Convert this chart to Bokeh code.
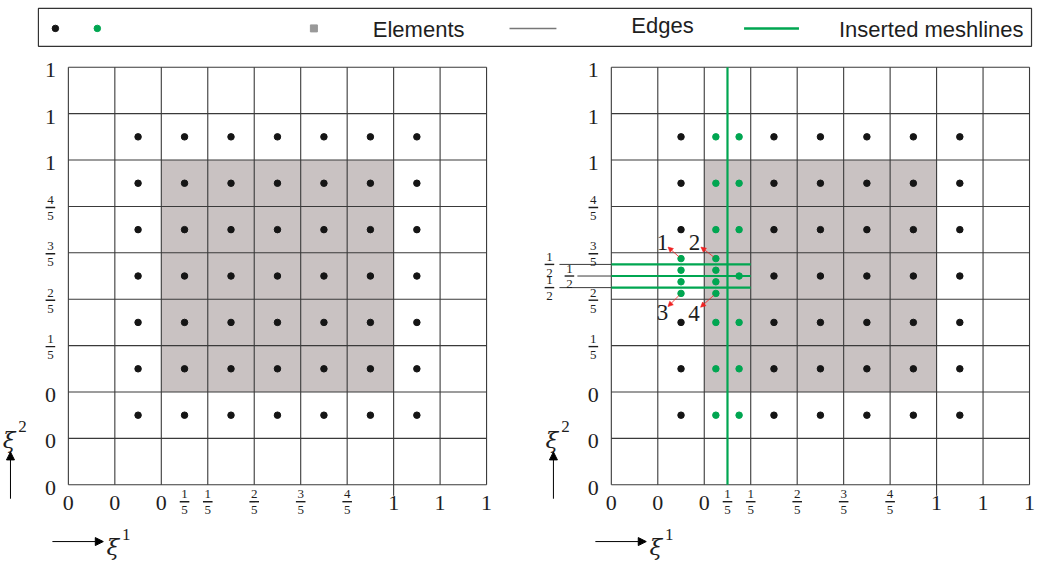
from bokeh.plotting import figure
from bokeh.models import Range1d, Arrow, NormalHead
from bokeh.core.properties import value
from bokeh.embed import file_html
from bokeh.resources import INLINE

# ---------------- data (grid-index space) ----------------
grid_lines = [0, 1, 2, 3, 4, 5, 6, 7, 8, 9]
x_tick_pos = [0, 1, 2, 2.5, 3, 4, 5, 6, 7, 8, 9]
x_tick_lab = ["0", "0", "0", "1/5", "1/5", "2/5", "3/5", "4/5", "1", "1", "1"]
y_tick_pos = [0, 1, 2, 3, 4, 5, 6, 7, 8, 9]
y_tick_lab = ["0", "0", "0", "1/5", "2/5", "3/5", "4/5", "1", "1", "1"]
extended_tick = [7]

element_left, element_right = [2], [7]
element_bottom, element_top = [2], [7]

basis_cols = [1.5, 2.5, 3.5, 4.5, 5.5, 6.5, 7.5]
basis_rows = [1.5, 2.5, 3.5, 4.5, 5.5, 6.5, 7.5]

# refinement shown in the right panel
inserted_x = [2.5]
inserted_y = [4.75, 4.5, 4.25]
inserted_y_lab = ["1/2", "1/2", "1/2"]
inserted_y_span = [0, 3]
refined_col = 2.5
refined_row = 4.5
split_cols = [2.25, 2.75]
split_rows = [4.125, 4.375, 4.625, 4.875]
split_row_cols = [1.5, 2.25]
kept_in_row = [(2.75, 4.5)]

arrow_labels = ["1", "2", "3", "4"]
arrow_from_x = [1.5, 2.25, 1.5, 2.25]
arrow_from_y = [4.875, 4.875, 4.125, 4.125]
arrow_lab_x = [1.10, 1.79, 1.10, 1.78]
arrow_lab_y = [5.23, 5.23, 3.72, 3.70]

legend_labels = ["Elements", "Edges", "Inserted meshlines"]

# ---------------- style ----------------
C = 419 / 9          # reference pixels per grid cell
OFF = 544 / C        # right panel offset (cells)
GREEN = "#00a651"
GREY = "#c9c2c2"
LINE = "#3a3a3a"
TXT = "#1e1e1e"
SERIF = value("Liberation Serif")
MATH = value("DejaVu Serif")
SANS = value("Liberation Sans")


def px(d):
    return d / C


def rx(xr):
    return (xr - 73) / C


def ry(yr):
    return (486 - yr) / C


p = figure(width=1038, height=561, output_backend="svg", toolbar_location=None,
           x_range=Range1d(rx(5), rx(1045)), y_range=Range1d(ry(563), ry(0)),
           x_axis_type=None, y_axis_type=None, min_border=0)
p.grid.visible = False
p.outline_line_color = None
p.background_fill_color = "white"
p.border_fill_color = "white"

big = dict(x=[], y=[], t=[])
small = dict(x=[], y=[], t=[])
bars = dict(x0=[], x1=[], y=[])


def put_label(x, y_digit, y_bar, lab):
    if "/" in lab:
        n, d = lab.split("/")
        small["x"] += [x, x]
        small["y"] += [y_bar + px(7.5), y_bar - px(8.5)]
        small["t"] += [n, d]
        bars["x0"].append(x - px(4.8))
        bars["x1"].append(x + px(4.8))
        bars["y"].append(y_bar)
    else:
        big["x"].append(x)
        big["y"].append(y_digit)
        big["t"].append(lab)


def draw_panel(ox, refined):
    p.quad(left=[ox + v for v in element_left], right=[ox + v for v in element_right],
           bottom=element_bottom, top=element_top, fill_color=GREY, line_color=None)
    n = len(grid_lines)
    p.segment(x0=[ox + g for g in grid_lines], y0=[grid_lines[0]] * n,
              x1=[ox + g for g in grid_lines], y1=[grid_lines[-1]] * n,
              line_color=LINE, line_width=1.1)
    p.segment(x0=[ox + grid_lines[0]] * n, y0=grid_lines,
              x1=[ox + grid_lines[-1]] * n, y1=grid_lines,
              line_color=LINE, line_width=1.1)
    p.segment(x0=[ox + e for e in extended_tick], y0=[0] * len(extended_tick),
              x1=[ox + e for e in extended_tick], y1=[-px(11)] * len(extended_tick),
              line_color=LINE, line_width=1.1)
    for pos, lab in zip(x_tick_pos, x_tick_lab):
        put_label(ox + pos, -px(18.5), -px(17), lab)
    for pos, lab in zip(y_tick_pos, y_tick_lab):
        put_label(ox - px(18), pos - px(3), pos - px(1), lab)

    bx, by, gx, gy = [], [], [], []
    if not refined:
        for c in basis_cols:
            for r in basis_rows:
                bx.append(ox + c)
                by.append(r)
    else:
        for c in basis_cols:
            for r in basis_rows:
                if c == refined_col:
                    if r != refined_row:
                        for c2 in split_cols:
                            gx.append(ox + c2)
                            gy.append(r)
                elif r == refined_row and c in split_row_cols:
                    pass
                else:
                    bx.append(ox + c)
                    by.append(r)
        for c in split_row_cols:
            for r in split_rows:
                gx.append(ox + c)
                gy.append(r)
        for c, r in kept_in_row:
            gx.append(ox + c)
            gy.append(r)
        # inserted meshlines
        for xi in inserted_x:
            p.line([ox + xi, ox + xi], [grid_lines[0], grid_lines[-1]],
                   line_color=GREEN, line_width=2.2)
        for k, yi in enumerate(inserted_y):
            p.line([ox + inserted_y_span[0], ox + inserted_y_span[1]], [yi, yi],
                   line_color=GREEN, line_width=2.2)
            lx = -px(62) if k != 1 else -px(42)
            lead = -px(52) if k != 1 else -px(34)
            p.line([ox + lead, ox], [yi, yi], line_color=LINE, line_width=1)
            put_label(ox + lx, yi, yi, inserted_y_lab[k])
        # numbered arrows
        for lab, fx, fy, tx, ty in zip(arrow_labels, arrow_from_x, arrow_from_y,
                                       arrow_lab_x, arrow_lab_y):
            dx, dy = tx - fx, ty - fy
            p.add_layout(Arrow(end=NormalHead(size=5, line_color="#ee2222", fill_color="#ee2222",
                                              line_width=0.6),
                               x_start=ox + fx + 0.1 * dx, y_start=fy + 0.1 * dy,
                               x_end=ox + fx + 0.7 * dx, y_end=fy + 0.7 * dy,
                               line_color="#ee2222", line_width=0.8))
        p.text(x=[ox + v for v in arrow_lab_x], y=arrow_lab_y, text=arrow_labels,
               text_font=SERIF, text_font_size="23px", text_align="center",
               text_baseline="middle", text_color=TXT)
    if bx:
        p.scatter(bx, by, size=6.5, fill_color="#151515", line_color="#151515")
    if gx:
        p.scatter(gx, gy, size=6.5, fill_color=GREEN, line_color=GREEN)

    # parametric direction arrows and names
    p.add_layout(Arrow(end=NormalHead(size=8, fill_color="black", line_color="black"),
                       x_start=ox - px(16), y_start=-px(57), x_end=ox + px(35), y_end=-px(57),
                       line_color="black", line_width=1))
    p.add_layout(Arrow(end=NormalHead(size=8, fill_color="black", line_color="black"),
                       x_start=ox - px(58), y_start=-px(14), x_end=ox - px(58), y_end=px(33),
                       line_color="black", line_width=1))
    p.text(x=[ox + px(44.5), ox - px(59.5)], y=[-px(62), px(45)], text=["ξ", "ξ"],
           text_font=MATH, text_font_style="italic", text_font_size="23px",
           text_align="center", text_baseline="alphabetic", text_color=TXT)
    p.text(x=[ox + px(58), ox - px(46)], y=[-px(50), px(58)], text=["1", "2"],
           text_font=SERIF, text_font_size="17px", text_align="center",
           text_baseline="middle", text_color=TXT)


draw_panel(0, False)
draw_panel(OFF, True)

p.text(x=big["x"], y=big["y"], text=big["t"], text_font=SERIF, text_font_size="22px",
       text_align="center", text_baseline="middle", text_color=TXT)
p.text(x=small["x"], y=small["y"], text=small["t"], text_font=SERIF, text_font_size="13px",
       text_align="center", text_baseline="middle", text_color=TXT)
p.segment(x0=bars["x0"], y0=bars["y"], x1=bars["x1"], y1=bars["y"],
          line_color=TXT, line_width=1.4)

# ---------------- legend ----------------
p.quad(left=[rx(43)], right=[rx(1038)], bottom=[ry(46)], top=[ry(8)],
       fill_color="white", line_color="#333333", line_width=1.2)
p.scatter([rx(60)], [ry(28)], size=6.5, fill_color="#151515", line_color="#151515")
p.scatter([rx(102)], [ry(28)], size=6.5, fill_color=GREEN, line_color=GREEN)
p.scatter([rx(319)], [ry(28)], marker="square", size=7, fill_color="#999999", line_color="#999999")
p.line([rx(515), rx(562)], [ry(28), ry(28)], line_color="#777777", line_width=1.5)
p.line([rx(750), rx(805)], [ry(28), ry(28)], line_color=GREEN, line_width=2.5)
p.text(x=[rx(378), rx(637), rx(845)], y=[ry(29), ry(25), ry(29)], text=legend_labels,
       text_font=SANS, text_font_size="22px", text_align="left", text_baseline="middle",
       text_color=TXT)

open("out.html", "w").write(file_html(p, INLINE))
